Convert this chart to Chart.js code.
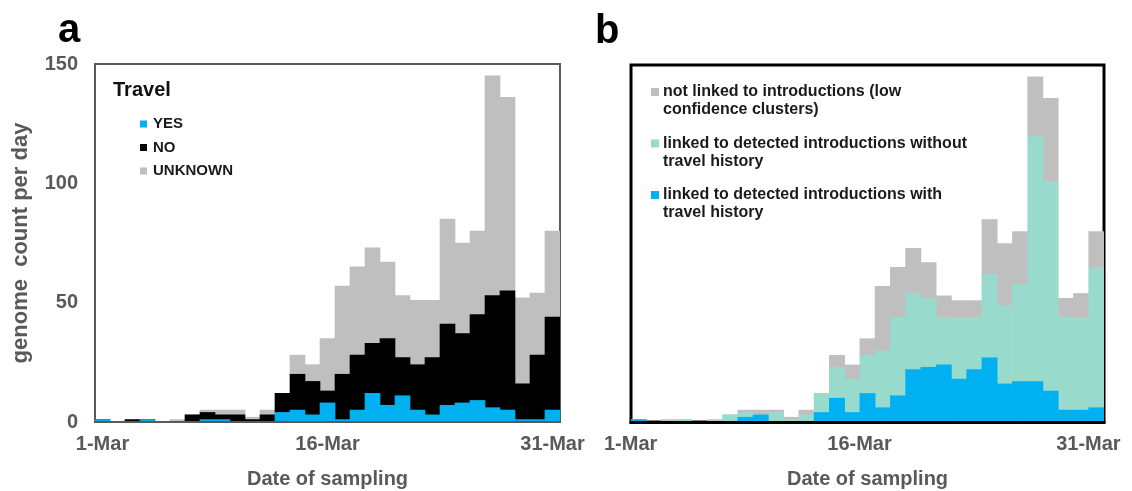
<!DOCTYPE html>
<html>
<head>
<meta charset="utf-8">
<script src="https://cdn.jsdelivr.net/npm/chart.js@4.4.0/dist/chart.umd.min.js"></script>
<style>
  html, body { margin: 0; padding: 0; background: #fff; overflow: hidden; }
  #wrap { position: relative; width: 1132px; height: 491px; }
  canvas { position: absolute; top: 0; }
  #chartA { left: 0; }
  #chartB { left: 566px; }
</style>
</head>
<body>
<div id="wrap">
  <canvas id="chartA" width="600" height="491"></canvas>
  <canvas id="chartB" width="600" height="491"></canvas>
</div>
<script>
const days = ['1-Mar', '2-Mar', '3-Mar', '4-Mar', '5-Mar', '6-Mar', '7-Mar', '8-Mar', '9-Mar', '10-Mar',
  '11-Mar', '12-Mar', '13-Mar', '14-Mar', '15-Mar', '16-Mar', '17-Mar', '18-Mar', '19-Mar', '20-Mar',
  '21-Mar', '22-Mar', '23-Mar', '24-Mar', '25-Mar', '26-Mar', '27-Mar', '28-Mar', '29-Mar', '30-Mar', '31-Mar'];
const shownDays = ['1-Mar', '16-Mar', '31-Mar'];

// panel a: travel history
const travelYes = [1,0,0,1,0,0,0,1,1,0,0,0,4,5,3,8,1,5,12,7,11,5,3,7,8,9,6,5,1,1,5];
const travelNo = [0,0,1,0,0,0,3,3,2,3,1,3,8,15,14,5,19,23,21,28,16,19,24,34,29,36,47,50,15,27,39];
const travelUnknown = [0,0,0,0,0,1,0,1,2,2,1,2,0,8,7,22,37,37,40,32,26,27,24,44,38,35,92,81,36,26,36];

// panel b: links to introductions
const withTravel = [1,0,0,0,0,0,0,2,3,0,0,0,4,10,4,12,6,11,22,23,24,18,22,27,16,17,17,13,5,5,6];
const withoutTravel = [0,0,0,1,0,0,3,2,0,4,1,3,8,13,14,16,24,33,32,29,20,26,22,35,33,41,103,88,39,39,59];
const notLinked = [0,0,1,0,0,1,0,1,2,1,1,2,0,5,6,7,27,21,19,15,9,7,7,23,26,22,25,35,8,10,15];

const BLUE = '#00b0f0';
const GREY = '#bfbfbf';
const TEAL = '#98dbcd';
const AXIS = '#595959';
const FONT = '"Liberation Sans", Arial, sans-serif';

Chart.defaults.font.family = FONT;

// box round the plot; the bottom line goes back on top of the bars
const framePlugin = {
  id: 'frame',
  beforeDatasetsDraw(chart, args, o) {
    const { ctx, chartArea: a } = chart;
    ctx.save();
    ctx.strokeStyle = o.color;
    ctx.lineWidth = o.width;
    ctx.strokeRect(a.left, a.top, a.right - a.left, a.bottom - a.top);
    ctx.restore();
  },
  afterDatasetsDraw(chart, args, o) {
    const { ctx, chartArea: a } = chart;
    ctx.save();
    ctx.strokeStyle = o.color;
    ctx.lineWidth = o.width;
    ctx.beginPath();
    ctx.moveTo(a.left - o.width / 2, a.bottom + o.width / 2 - 1);
    ctx.lineTo(a.right + o.width / 2, a.bottom + o.width / 2 - 1);
    ctx.stroke();
    ctx.restore();
  }
};

function wrapText(ctx, text, maxWidth) {
  const words = text.split(' ');
  const lines = [];
  let line = '';
  words.forEach(w => {
    const test = line ? line + ' ' + w : w;
    if (line && ctx.measureText(test).width > maxWidth) {
      lines.push(line);
      line = w;
    } else {
      line = test;
    }
  });
  if (line) lines.push(line);
  return lines;
}

// legend drawn inside the plot, plus the panel letter
const boxLegend = {
  id: 'boxLegend',
  afterDraw(chart, args, o) {
    const ctx = chart.ctx;
    ctx.save();
    ctx.fillStyle = '#000';
    ctx.font = 'bold 40px ' + FONT;
    ctx.textBaseline = 'alphabetic';
    ctx.fillText(o.letter, o.letterX, o.letterY);

    ctx.textBaseline = 'middle';
    if (o.title) {
      ctx.fillStyle = '#111';
      ctx.font = 'bold 20px ' + FONT;
      ctx.fillText(o.title, o.titleX, o.titleY);
    }
    ctx.font = o.font;
    const sets = chart.data.datasets.slice();
    if (o.reverse) sets.reverse();
    let y = o.y;
    sets.forEach(ds => {
      const lines = wrapText(ctx, ds.label, o.maxWidth);
      ctx.fillStyle = ds.backgroundColor;
      ctx.fillRect(o.x, y - o.box / 2, o.box, o.box);
      ctx.fillStyle = '#1a1a1a';
      lines.forEach((ln, i) => ctx.fillText(ln, o.textX, y + i * o.lineHeight));
      y += o.step;
    });
    ctx.restore();
  }
};

function xAxis(labelOffset) {
  return {
    stacked: true,
    grid: { display: false, drawTicks: false },
    border: { display: false },
    afterFit(s) { s.height = 69; },
    ticks: {
      autoSkip: false,
      maxRotation: 0,
      padding: 10,
      labelOffset: labelOffset,
      color: AXIS,
      font: { size: 20, weight: 'bold' },
      callback(v, i) { return shownDays.includes(days[i]) ? days[i] : ''; }
    },
    title: {
      display: true,
      text: 'Date of sampling',
      color: AXIS,
      font: { size: 20, weight: 'bold' },
      padding: { top: 0, bottom: 0 }
    }
  };
}

function bars(label, data, color) {
  return {
    label: label,
    data: data,
    backgroundColor: color,
    borderWidth: 0,
    barPercentage: 1,
    categoryPercentage: 1
  };
}

new Chart(document.getElementById('chartA'), {
  type: 'bar',
  data: {
    labels: days,
    datasets: [
      bars('YES', travelYes, BLUE),
      bars('NO', travelNo, '#000000'),
      bars('UNKNOWN', travelUnknown, GREY)
    ]
  },
  options: {
    responsive: false,
    animation: false,
    layout: { padding: { top: 64, right: 40, bottom: 0, left: 0 } },
    scales: {
      x: xAxis(0),
      y: {
        stacked: true,
        min: 0,
        max: 150,
        grid: { display: false, drawTicks: false },
        border: { display: false },
        afterFit(s) { s.width = 95; },
        ticks: {
          stepSize: 50,
          padding: 17,
          color: AXIS,
          font: { size: 20, weight: 'bold' }
        },
        title: {
          display: true,
          text: 'genome  count per day',
          color: AXIS,
          font: { size: 22, weight: 'bold' },
          padding: { top: 8, bottom: 0 }
        }
      }
    },
    plugins: {
      legend: { display: false },
      tooltip: { enabled: false },
      frame: { color: AXIS, width: 2 },
      boxLegend: {
        letter: 'a', letterX: 58, letterY: 42,
        title: 'Travel', titleX: 113, titleY: 90,
        font: 'bold 15px ' + FONT,
        x: 140, box: 7, textX: 153, y: 124, step: 23.5,
        lineHeight: 18, maxWidth: 400, reverse: false
      }
    }
  },
  plugins: [framePlugin, boxLegend]
});

new Chart(document.getElementById('chartB'), {
  type: 'bar',
  data: {
    labels: days,
    datasets: [
      bars('linked to detected introductions with travel history', withTravel, BLUE),
      bars('linked to detected introductions without travel history', withoutTravel, TEAL),
      bars('not linked to introductions (low confidence clusters)', notLinked, GREY)
    ]
  },
  options: {
    responsive: false,
    animation: false,
    layout: { padding: { top: 65, right: 62, bottom: 0, left: 65 } },
    scales: {
      x: xAxis(-8),
      y: { stacked: true, min: 0, max: 150, display: false }
    },
    plugins: {
      legend: { display: false },
      tooltip: { enabled: false },
      frame: { color: '#000', width: 3 },
      boxLegend: {
        letter: 'b', letterX: 29, letterY: 43,
        title: '',
        font: 'bold 16px ' + FONT,
        x: 85, box: 8, textX: 97, y: 92, step: 51.5,
        lineHeight: 18, maxWidth: 305, reverse: true
      }
    }
  },
  plugins: [framePlugin, boxLegend]
});
</script>
</body>
</html>
